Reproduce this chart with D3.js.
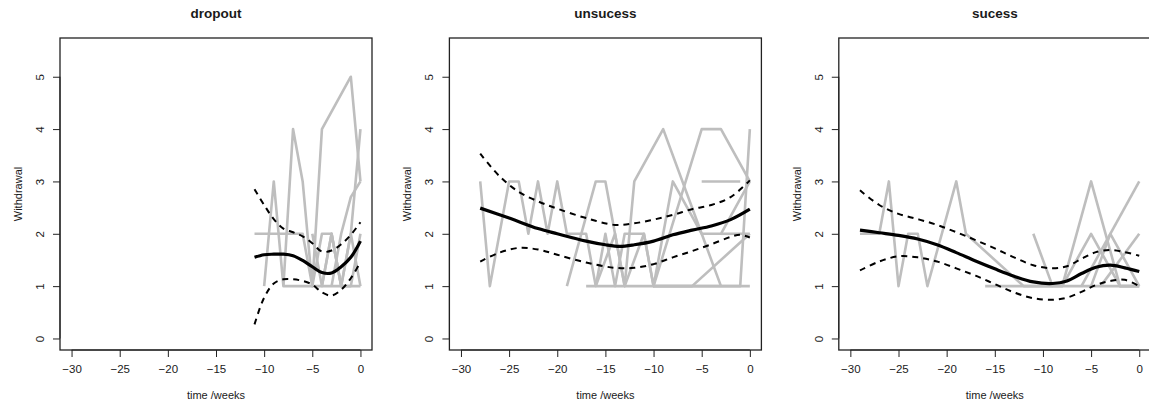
<!DOCTYPE html>
<html>
<head>
<meta charset="utf-8">
<script src="https://cdn.jsdelivr.net/npm/d3@7"></script>
<style>
    body { margin: 0; background: #fff; }
    text { font-family: "Liberation Sans", Arial, Helvetica, sans-serif; fill: #1a1a1a; }
</style>
</head>
<body>
<div id="chart"></div>
<script>
// data: [week, withdrawal]
const panelTitles = ["dropout", "unsucess", "sucess"];
const xTicks = [-30, -25, -20, -15, -10, -5, 0];
const yTicks = [0, 1, 2, 3, 4, 5];

const dropoutSubjects = [
    [[-11, 2], [-10, 2], [-9, 2], [-8, 2], [-7, 2], [-6, 2], [-5, 1], [-4, 2], [-3, 2], [-2, 1], [-1, 2], [0, 1]],
    [[-10, 1], [-9, 3], [-8, 1], [-7, 1], [-5, 1], [-3, 1], [-1, 1], [0, 1]],
    [[-8, 1], [-7, 4], [-6, 3], [-5, 1], [-4, 4], [-1, 5], [0, 3]],
    [[-4, 1], [-3, 2], [-2, 1], [-1, 2], [0, 4]],
    [[-3, 1], [-2, 2], [-1, 2.7], [0, 3]],
    [[-5, 2], [-4, 1], [-3, 2], [-2, 1], [-1, 1], [0, 2]]
];
const dropoutFit = [[-11, 1.55], [-10, 1.6], [-9, 1.61], [-8, 1.61], [-7, 1.58], [-6, 1.49], [-5, 1.37], [-4, 1.26], [-3, 1.25], [-2, 1.37], [-1, 1.55], [0, 1.86]];
const dropoutUpper = [[-11, 2.85], [-10, 2.55], [-9, 2.28], [-8, 2.1], [-7, 2.03], [-6, 1.95], [-5, 1.82], [-4, 1.66], [-3, 1.68], [-2, 1.8], [-1, 1.98], [0, 2.22]];
const dropoutLower = [[-11, 0.27], [-10, 0.78], [-9, 1.05], [-8, 1.13], [-7, 1.13], [-6, 1.1], [-5, 1.03], [-4, 0.88], [-3, 0.82], [-2, 0.93], [-1, 1.15], [0, 1.46]];

const unsucessSubjects = [
    [[-28, 3], [-27, 1], [-25, 3], [-24, 3], [-23, 2], [-22, 3], [-21, 2], [-20, 3], [-19, 2], [-17, 2], [-16, 1], [-13, 1]],
    [[-19, 1], [-16, 3], [-15, 3], [-13, 1], [-12, 3], [-9, 4], [-5, 2], [-3, 1]],
    [[-17, 1], [-16, 1], [-15, 2], [-14, 1], [-13, 2], [-11, 2], [-10, 1], [-8, 3], [-5, 2], [-3, 2], [0, 3]],
    [[-16, 1], [-14, 2], [-13, 1], [-11, 2], [-10, 1], [-5, 4], [-3, 4], [0, 3]],
    [[-13, 1], [-10, 1], [-1, 1], [0, 4]],
    [[-10, 1], [-6, 1], [0, 2]],
    [[-5, 3], [-1, 3]],
    [[-10, 1], [0, 1]],
    [[-3, 2], [0, 2]]
];
const unsucessFit = [[-28, 2.49], [-25, 2.3], [-22, 2.1], [-20, 2.0], [-17, 1.86], [-15, 1.79], [-13.5, 1.76], [-12, 1.79], [-10, 1.86], [-8, 1.98], [-6, 2.07], [-4, 2.15], [-2, 2.27], [0, 2.47]];
const unsucessUpper = [[-28, 3.53], [-26, 3.1], [-24, 2.8], [-22, 2.62], [-20, 2.48], [-17, 2.3], [-14, 2.17], [-12, 2.2], [-10, 2.27], [-8, 2.36], [-6, 2.47], [-4, 2.55], [-2, 2.7], [0, 3.02]];
const unsucessLower = [[-28, 1.47], [-26, 1.64], [-24, 1.73], [-22, 1.7], [-20, 1.6], [-17, 1.45], [-14, 1.35], [-12, 1.35], [-10, 1.42], [-8, 1.55], [-6, 1.67], [-4, 1.8], [-2, 1.94], [-1, 1.98], [0, 1.93]];

const sucessSubjects = [
    [[-29, 2], [-27, 2], [-26, 3], [-25, 1], [-24, 2], [-23, 2], [-22, 1], [-19, 3], [-18, 2], [-12, 1], [-9, 1]],
    [[-16, 1], [-12, 1], [-8, 1], [-4, 1], [0, 1]],
    [[-11, 2], [-9, 1], [-8, 1], [-5, 3], [-2, 1], [0, 1]],
    [[-8, 1], [-5, 2], [-2, 1], [0, 1]],
    [[-6, 1], [0, 3]],
    [[-5, 1], [-3, 2], [0, 1]],
    [[-4, 1], [0, 2]]
];
const sucessFit = [[-29, 2.07], [-27, 2.02], [-25, 1.97], [-23, 1.9], [-21, 1.79], [-19, 1.64], [-17, 1.48], [-15, 1.33], [-13, 1.19], [-11, 1.08], [-9, 1.05], [-7.5, 1.1], [-6, 1.24], [-4.5, 1.36], [-3, 1.4], [-1.5, 1.35], [0, 1.28]];
const sucessUpper = [[-29, 2.83], [-27, 2.55], [-25, 2.38], [-23, 2.28], [-21, 2.17], [-19, 2.03], [-17, 1.88], [-15, 1.72], [-13, 1.55], [-11, 1.4], [-9, 1.34], [-7.5, 1.38], [-6, 1.52], [-4.5, 1.65], [-3, 1.69], [-1.5, 1.65], [0, 1.58]];
const sucessLower = [[-29, 1.3], [-27, 1.47], [-25, 1.57], [-23, 1.55], [-21, 1.47], [-19, 1.34], [-17, 1.2], [-15, 1.04], [-13, 0.88], [-11, 0.77], [-9, 0.74], [-7.5, 0.78], [-6, 0.89], [-4.5, 1.02], [-3, 1.1], [-1.5, 1.12], [0, 1.0]];

const panelSubjects = [dropoutSubjects, unsucessSubjects, sucessSubjects];
const panelFits = [dropoutFit, unsucessFit, sucessFit];
const panelUppers = [dropoutUpper, unsucessUpper, sucessUpper];
const panelLowers = [dropoutLower, unsucessLower, sucessLower];

if (window.system == undefined) window.system = {}
system.chart = (() => {
    this.w = 1149;
    this.h = 405;
    this.m = { top: 38, bottom: 55, left: 60 };
    this.boxW = 312;
    this.step = 389.4;

    this.svg = d3.select("#chart")
        .append("svg")
        .attr("width", this.w)
        .attr("height", this.h)

    this.drawPanel = (i) => {
        let left = this.m.left + i * this.step,
            right = left + this.boxW,
            top = this.m.top,
            bottom = this.h - this.m.bottom;

        let x = d3.scaleLinear().domain([-31.2, 1.2]).range([left, right]);
        let y = d3.scaleLinear().domain([-0.22, 5.74]).range([bottom, top]);

        let g = this.svg.append("g").attr("class", "panel");

        let raw = d3.line().x(d => x(d[0])).y(d => y(d[1]));
        let smooth = d3.line().x(d => x(d[0])).y(d => y(d[1])).curve(d3.curveCatmullRom.alpha(0.5));

        // individual trajectories
        g.selectAll(".subject")
            .data(panelSubjects[i])
            .enter()
            .append("path")
            .attr("class", "subject")
            .attr("d", raw)
            .style("fill", "none")
            .style("stroke", "#bebebe")
            .style("stroke-width", 2.6)
            .style("stroke-linejoin", "round")

        // confidence bands
        g.selectAll(".band")
            .data([panelUppers[i], panelLowers[i]])
            .enter()
            .append("path")
            .attr("class", "band")
            .attr("d", smooth)
            .style("fill", "none")
            .style("stroke", "#000")
            .style("stroke-width", 2)
            .style("stroke-dasharray", "6,5")

        g.append("path")
            .attr("d", smooth(panelFits[i]))
            .style("fill", "none")
            .style("stroke", "#000")
            .style("stroke-width", 3.2)

        // box
        g.append("rect")
            .attr("x", left)
            .attr("y", top)
            .attr("width", right - left)
            .attr("height", bottom - top)
            .style("fill", "none")
            .style("stroke", "#222")
            .style("stroke-width", 1.3)

        // x axis
        let xa = g.append("g").attr("transform", "translate(0," + bottom + ")")
            .call(d3.axisBottom(x).tickValues(xTicks).tickSize(7).tickPadding(8).tickFormat(d => d < 0 ? "\u2212" + Math.abs(d) : d));
        xa.select(".domain").attr("d", "M" + x(-30) + ",0H" + x(0)).style("stroke", "#222");
        xa.selectAll("line").style("stroke", "#222");
        xa.selectAll("text").style("font-size", "11.5px").attr("fill", "#1a1a1a");

        // y axis
        let ya = g.append("g").attr("transform", "translate(" + left + ",0)")
            .call(d3.axisLeft(y).tickValues(yTicks).tickSize(7).tickFormat(d3.format("d")));
        ya.select(".domain").attr("d", "M0," + y(0) + "V" + y(5)).style("stroke", "#222");
        ya.selectAll("line").style("stroke", "#222");
        ya.selectAll("text")
            .attr("x", null).attr("dy", null)
            .attr("transform", "translate(-20,0) rotate(-90)")
            .attr("text-anchor", "middle")
            .attr("dominant-baseline", "central")
            .attr("fill", "#1a1a1a")
            .style("font-size", "11.5px");

        // titles
        g.append("text")
            .attr("x", (left + right) / 2)
            .attr("y", 18)
            .attr("text-anchor", "middle")
            .style("font-size", "13.5px")
            .style("font-weight", "bold")
            .text(panelTitles[i])

        g.append("text")
            .attr("x", (left + right) / 2)
            .attr("y", 399)
            .attr("text-anchor", "middle")
            .style("font-size", "11px")
            .text("time /weeks")

        g.append("text")
            .attr("transform", "translate(" + (left - 42) + "," + ((top + bottom) / 2) + ") rotate(-90)")
            .attr("text-anchor", "middle")
            .attr("dominant-baseline", "central")
            .style("font-size", "11px")
            .text("Withdrawal")
    }

    panelTitles.forEach((t, i) => this.drawPanel(i));

    return this;
}).call({})
</script>
</body>
</html>
